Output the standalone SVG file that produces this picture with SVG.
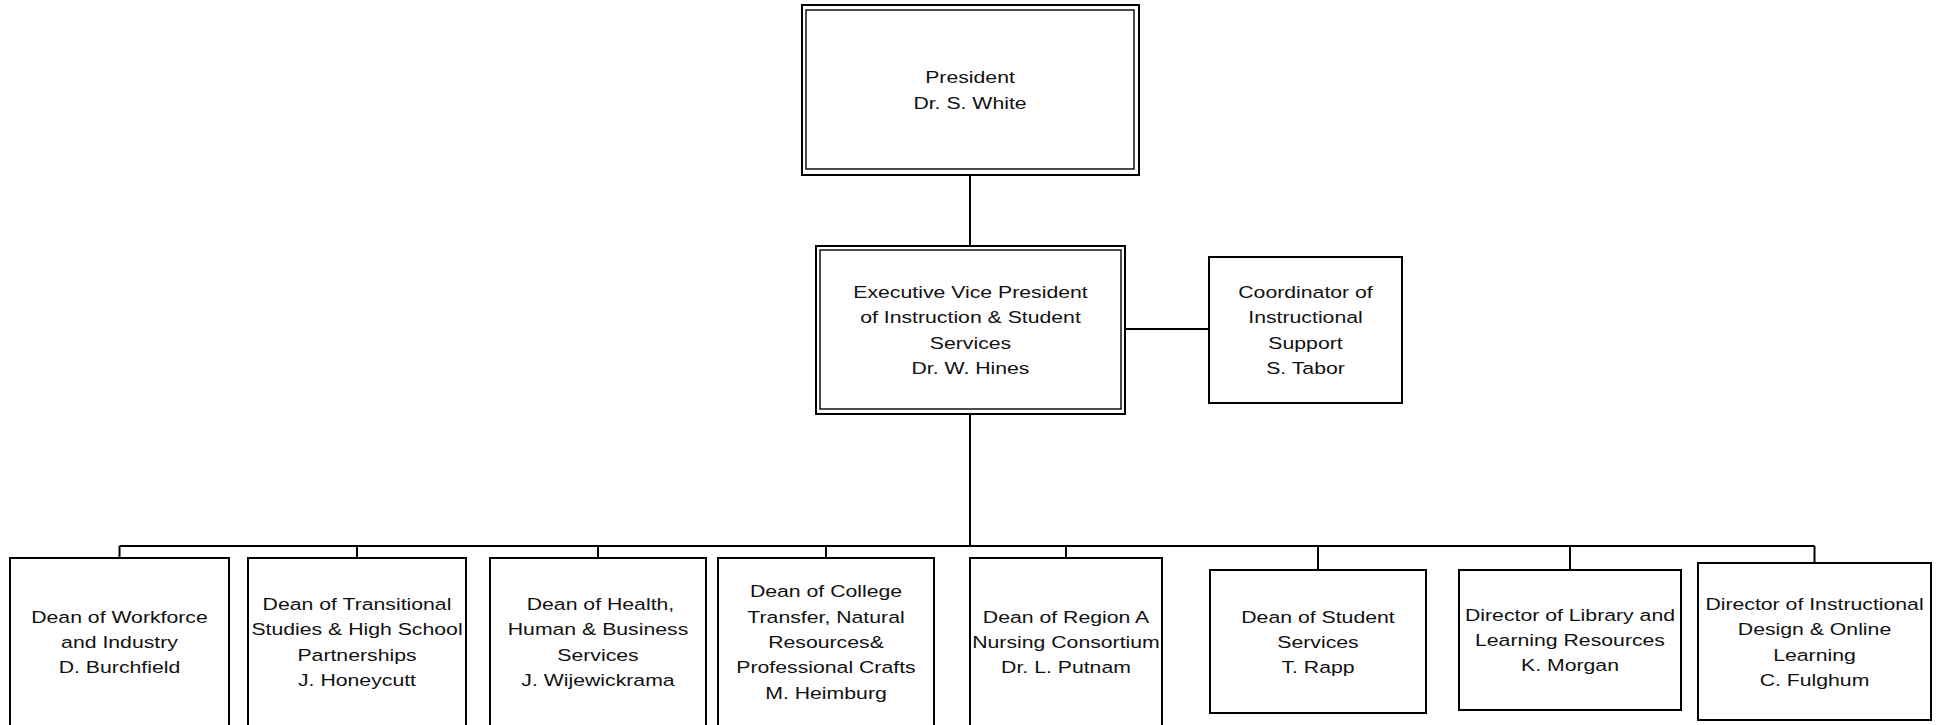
<svg xmlns="http://www.w3.org/2000/svg" width="1939" height="725" viewBox="0 0 1939 725">
<style>
.box{fill:#fff;stroke:#000;stroke-width:2}
.inner{fill:none;stroke:#000;stroke-width:1.4}
.con{fill:none;stroke:#000;stroke-width:2}
.t{font-family:"Liberation Sans",Arial,sans-serif;font-size:17.2px;fill:#111;text-anchor:middle}
</style>
<rect width="1939" height="725" fill="#fff"/>
<g id="connectors">
<path class="con" d="M970 175V246"/>
<path class="con" d="M1125 329H1209"/>
<path class="con" d="M970 414V546"/>
<path class="con" d="M119.5 546H1814.5"/>
<path class="con" d="M119.5 546V558M357 546V558M598 546V558M826 546V558M1066 546V558M1318 546V570M1570 546V570M1814.5 546V563"/>
</g>
<g id="president">
<rect class="box" x="802" y="5" width="337" height="170"/>
<rect class="inner" x="806" y="10" width="328" height="159"/>
<text class="t" transform="translate(970 0) scale(1.235 1)"><tspan x="0" y="83.5">President</tspan><tspan x="0" y="108.8">Dr. S. White</tspan></text>
</g>
<g id="evp">
<rect class="box" x="816" y="246" width="309" height="168"/>
<rect class="inner" x="820" y="250" width="301" height="159"/>
<text class="t" transform="translate(970.5 0) scale(1.235 1)"><tspan x="0" y="298.2">Executive Vice President</tspan><tspan x="0" y="323.5">of Instruction &amp; Student</tspan><tspan x="0" y="348.8">Services</tspan><tspan x="0" y="374.1">Dr. W. Hines</tspan></text>
</g>
<g id="coordinator">
<rect class="box" x="1209" y="257" width="193" height="146"/>
<text class="t" transform="translate(1305.5 0) scale(1.235 1)"><tspan x="0" y="298.2">Coordinator of</tspan><tspan x="0" y="323.5">Instructional</tspan><tspan x="0" y="348.8">Support</tspan><tspan x="0" y="374.1">S. Tabor</tspan></text>
</g>
<g id="dean-workforce">
<rect class="box" x="10" y="558" width="219" height="175"/>
<text class="t" transform="translate(119.5 0) scale(1.235 1)"><tspan x="0" y="622.7">Dean of Workforce</tspan><tspan x="0" y="648">and Industry</tspan><tspan x="0" y="673.3">D. Burchfield</tspan></text>
</g>
<g id="dean-transitional">
<rect class="box" x="248" y="558" width="218" height="175"/>
<text class="t" transform="translate(357 0) scale(1.235 1)"><tspan x="0" y="610.1">Dean of Transitional</tspan><tspan x="0" y="635.4">Studies &amp; High School</tspan><tspan x="0" y="660.7">Partnerships</tspan><tspan x="0" y="686">J. Honeycutt</tspan></text>
</g>
<g id="dean-health">
<rect class="box" x="490" y="558" width="216" height="175"/>
<text class="t" transform="translate(598 0) scale(1.235 1)"><tspan x="2" y="610.1">Dean of Health,</tspan><tspan x="0" y="635.4">Human &amp; Business</tspan><tspan x="0" y="660.7">Services</tspan><tspan x="0" y="686">J. Wijewickrama</tspan></text>
</g>
<g id="dean-college">
<rect class="box" x="718" y="558" width="216" height="175"/>
<text class="t" transform="translate(826 0) scale(1.235 1)"><tspan x="0" y="597.4">Dean of College</tspan><tspan x="0" y="622.7">Transfer, Natural</tspan><tspan x="0" y="648">Resources&amp;</tspan><tspan x="0" y="673.3">Professional Crafts</tspan><tspan x="0" y="698.6">M. Heimburg</tspan></text>
</g>
<g id="dean-nursing">
<rect class="box" x="970" y="558" width="192" height="175"/>
<text class="t" transform="translate(1066 0) scale(1.235 1)"><tspan x="0" y="622.7">Dean of Region A</tspan><tspan x="0" y="648">Nursing Consortium</tspan><tspan x="0" y="673.3">Dr. L. Putnam</tspan></text>
</g>
<g id="dean-student">
<rect class="box" x="1210" y="570" width="216" height="143"/>
<text class="t" transform="translate(1318 0) scale(1.235 1)"><tspan x="0" y="622.7">Dean of Student</tspan><tspan x="0" y="648">Services</tspan><tspan x="0" y="673.3">T. Rapp</tspan></text>
</g>
<g id="director-library">
<rect class="box" x="1459" y="570" width="222" height="140"/>
<text class="t" transform="translate(1570 0) scale(1.235 1)"><tspan x="0" y="620.7">Director of Library and</tspan><tspan x="0" y="646">Learning Resources</tspan><tspan x="0" y="671.3">K. Morgan</tspan></text>
</g>
<g id="director-online">
<rect class="box" x="1698" y="563" width="233" height="157"/>
<text class="t" transform="translate(1814.5 0) scale(1.235 1)"><tspan x="0" y="610.1">Director of Instructional</tspan><tspan x="0" y="635.4">Design &amp; Online</tspan><tspan x="0" y="660.7">Learning</tspan><tspan x="0" y="686">C. Fulghum</tspan></text>
</g>
</svg>
